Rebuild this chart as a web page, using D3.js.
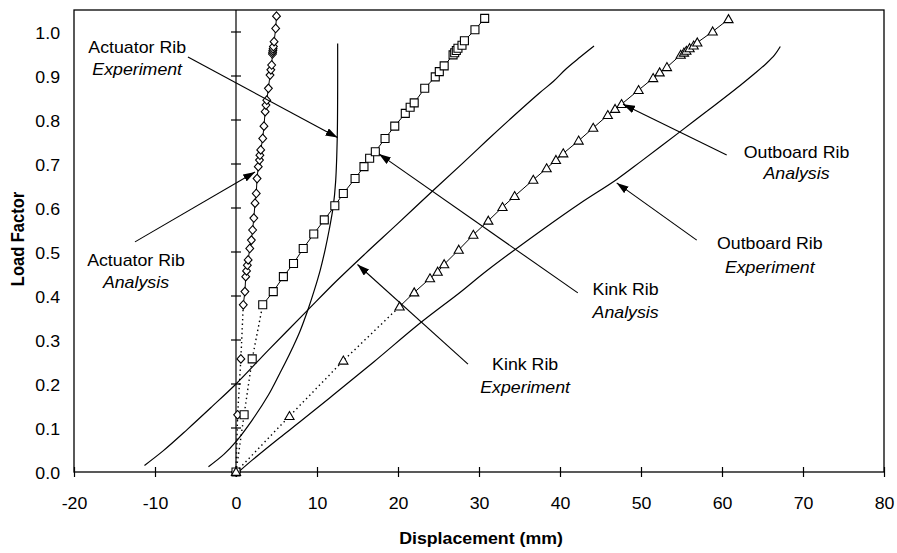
<!DOCTYPE html>
<html><head><meta charset="utf-8">
<script src="https://cdn.jsdelivr.net/npm/d3@7"></script>
<style>
body{margin:0;background:#fff;}
text{font-family:"Liberation Sans",Arial,Helvetica,sans-serif;fill:#000;}
</style>
</head><body>
<svg id="chart" width="897" height="553"></svg>
<script>
// ---------- DATA ----------
const xTicks = [-20,-10,0,10,20,30,40,50,60,70,80];
const yTicks = [0,0.1,0.2,0.3,0.4,0.5,0.6,0.7,0.8,0.9,1.0];
const xTitle = "Displacement (mm)";
const yTitle = "Load Factor";

// Actuator Rib – Analysis (diamonds)
const actuatorAnalysisX = [0,0.2,0.6,0.9,1.1,1.2,1.3,1.4,1.5,1.7,1.9,2.05,2.2,2.35,2.5,2.6,2.75,2.9,2.95,3.05,3.3,3.45,3.6,3.7,3.8,4.0,4.2,4.3,4.4,4.5,4.52,4.55,4.58,4.62,4.7,4.9,5.0];
const actuatorAnalysisY = [0,0.13,0.257,0.38,0.41,0.444,0.457,0.47,0.482,0.508,0.527,0.55,0.577,0.611,0.633,0.667,0.694,0.709,0.72,0.732,0.758,0.786,0.819,0.834,0.845,0.872,0.902,0.914,0.925,0.95,0.954,0.958,0.962,0.967,0.978,1.008,1.036];

// Kink Rib – Analysis (squares)
const kinkAnalysisX = [0,1.0,2.0,3.3,4.6,5.85,7.1,8.3,9.6,10.9,12.2,13.25,14.7,15.8,16.5,17.2,18.4,19.6,20.9,21.5,22.0,23.3,24.6,25.1,25.7,26.8,27.0,27.2,27.4,27.9,28.2,29.5,30.7];
const kinkAnalysisY = [0,0.13,0.257,0.38,0.41,0.444,0.474,0.508,0.541,0.573,0.605,0.633,0.667,0.694,0.713,0.728,0.758,0.786,0.815,0.829,0.839,0.872,0.898,0.91,0.923,0.948,0.953,0.958,0.963,0.97,0.98,1.005,1.031];

// Outboard Rib – Analysis (triangles)
const outboardAnalysisX = [0,6.6,13.25,20.2,22.0,23.95,24.9,25.7,27.5,29.3,31.15,32.9,34.4,36.7,38.35,39.5,40.4,42.3,44.1,45.9,46.8,47.6,49.7,51.5,52.3,53.2,54.9,55.3,55.6,56.0,56.5,56.95,58.85,60.8];
const outboardAnalysisY = [0,0.127,0.253,0.376,0.408,0.44,0.455,0.472,0.505,0.539,0.571,0.602,0.627,0.664,0.69,0.709,0.724,0.753,0.782,0.811,0.825,0.836,0.868,0.895,0.908,0.92,0.948,0.953,0.957,0.963,0.969,0.976,1.001,1.029];

// Experiments (plain lines)
const actuatorExpX = [-3.4,-1.5,0,2,4,5.4,6.05,7.0,7.9,8.9,9.7,10.4,11.0,11.5,12.0,12.3,12.5,12.55,12.55];
const actuatorExpY = [0.012,0.04,0.069,0.118,0.175,0.224,0.247,0.283,0.32,0.37,0.415,0.459,0.505,0.55,0.603,0.66,0.76,0.87,0.974];

const kinkExpX = [-11.3,-9,-6,-3,0,4,8.7,12.4,16,20,24.4,28,31,34.2,37.5,39.2,40.8,42.5,44.2];
const kinkExpY = [0.015,0.048,0.097,0.148,0.2,0.277,0.365,0.434,0.497,0.565,0.641,0.702,0.754,0.808,0.862,0.888,0.917,0.943,0.968];

const outboardExpX = [0.3,2,5.4,7.9,12,17,22.7,27.65,31,38,42.5,47,50,54.8,58,62.2,64,65.5,66.5,67.2];
const outboardExpY = [0.0,0.027,0.078,0.114,0.175,0.25,0.338,0.408,0.458,0.553,0.611,0.665,0.706,0.773,0.818,0.878,0.905,0.929,0.948,0.967];

// Number of leading points joined by a dotted line in the analysis series
const dottedCount = 4;

// Annotations: label lines, label centre (data units), arrow start & tip (data units)
const annLine1 = ["Actuator Rib","Actuator Rib","Kink Rib","Kink Rib","Outboard Rib","Outboard Rib"];
const annLine2 = ["Experiment","Analysis","Analysis","Experiment","Analysis","Experiment"];
const annTextX = [-12.2,-12.35,48.1,35.7,69.2,65.9];
const annTextY1 = [0.966,0.482,0.416,0.245,0.727,0.5205];
const annTextY2 = [0.916,0.432,0.364,0.193,0.680,0.466];
const annFromX = [-5.93,-12.47,42.2,28.64,60.58,56.88];
const annFromY = [0.943,0.523,0.407,0.245,0.7205,0.527];
const annToX = [12.53,2.35,17.65,15.0,47.78,47.0];
const annToY = [0.760,0.682,0.723,0.4716,0.836,0.657];

// ---------- CHART ----------
const svg = d3.select("#chart");
const x = d3.scaleLinear().domain([-20,80]).range([74,884]);
const y = d3.scaleLinear().domain([0,1.05]).range([472,10]);
const SX = 1.11, FS = 16;

svg.append("defs").append("marker")
  .attr("id","ah").attr("viewBox","0 0 12 8").attr("refX",12).attr("refY",4)
  .attr("markerWidth",12).attr("markerHeight",8).attr("markerUnits","userSpaceOnUse")
  .attr("orient","auto")
  .append("path").attr("d","M0,0L12,4L0,8Z").attr("fill","#000");

// frame
svg.append("rect").attr("x",x(-20)).attr("y",y(1.05))
  .attr("width",x(80)-x(-20)).attr("height",y(0)-y(1.05))
  .attr("fill","none").attr("stroke","#000").attr("stroke-width",1.3);

// x-axis ticks (crossing the axis line)
const xAxis = d3.axisBottom(x).tickValues(xTicks).tickSizeInner(0).tickSizeOuter(0).tickPadding(0).tickFormat(d=>d);
const gx = svg.append("g").attr("transform",`translate(0,${y(0)})`).call(xAxis);
gx.select(".domain").remove();
gx.selectAll(".tick").append("line").attr("y1",-5).attr("y2",5).attr("stroke","#000").attr("stroke-width",1.2);
gx.selectAll(".tick text").attr("y",0).attr("dy",0)
  .attr("transform",`translate(0,37) scale(${SX},1)`)
  .style("font-size",FS+"px").style("font-family",null).attr("fill","#000");

// vertical zero line with y ticks
const gy0 = svg.append("g").attr("transform",`translate(${x(0)},0)`);
gy0.append("line").attr("y1",y(0)).attr("y2",y(1.05)).attr("stroke","#000").attr("stroke-width",1.2);
gy0.selectAll("line.tk").data(yTicks).join("line").attr("class","tk")
  .attr("x1",-5).attr("x2",5).attr("y1",d=>y(d)).attr("y2",d=>y(d))
  .attr("stroke","#000").attr("stroke-width",1.2);

// y labels at left of frame
const yAxis = d3.axisLeft(y).tickValues(yTicks).tickSize(0).tickPadding(0).tickFormat(d3.format(".1f"));
const gy = svg.append("g").attr("transform",`translate(60,0)`).call(yAxis);
gy.select(".domain").remove();
gy.selectAll(".tick text").attr("x",0).attr("dy",0)
  .attr("transform",`translate(0,6) scale(${SX},1)`)
  .style("font-size",FS+"px").style("font-family",null).attr("fill","#000");

// axis titles
svg.append("text").attr("text-anchor","middle")
  .attr("transform",`translate(${(x(-20)+x(80))/2+2},544) scale(${SX},1)`)
  .style("font-size",FS+"px").style("font-weight","bold").text(xTitle);
svg.append("text").attr("text-anchor","middle")
  .attr("transform",`translate(24,239) rotate(-90) scale(1,${SX})`)
  .style("font-size","16.5px").style("font-weight","bold").text(yTitle);

// experiment curves
const zip = (a,b)=>a.map((v,i)=>[v,b[i]]);
const curve = d3.line().x(d=>x(d[0])).y(d=>y(d[1])).curve(d3.curveCatmullRom.alpha(0.5));
[[actuatorExpX,actuatorExpY],[kinkExpX,kinkExpY],[outboardExpX,outboardExpY]].forEach(([a,b])=>{
  svg.append("path").attr("d",curve(zip(a,b))).attr("fill","none").attr("stroke","#000").attr("stroke-width",1.2);
});

// analysis series
const lin = d3.line().x(d=>x(d[0])).y(d=>y(d[1]));
const diamond = "M0,-4.3L3.9,0L0,4.3L-3.9,0Z";
const square = "M-4,-4H4V4H-4Z";
const triangle = "M0,-4.6L4.6,3.4H-4.6Z";
const series = [
  [actuatorAnalysisX,actuatorAnalysisY,diamond],
  [kinkAnalysisX,kinkAnalysisY,square],
  [outboardAnalysisX,outboardAnalysisY,triangle]
];
series.forEach(([a,b,sym])=>{
  const pts = zip(a,b);
  svg.append("path").attr("d",lin(pts.slice(0,dottedCount))).attr("fill","none")
    .attr("stroke","#000").attr("stroke-width",1.4).attr("stroke-dasharray","1.4,3.2");
  svg.append("path").attr("d",lin(pts.slice(dottedCount-1))).attr("fill","none")
    .attr("stroke","#000").attr("stroke-width",1);
  svg.append("g").selectAll("path").data(pts).join("path")
    .attr("d",sym).attr("transform",d=>`translate(${x(d[0])},${y(d[1])})`)
    .attr("fill","#fff").attr("stroke","#000").attr("stroke-width",1.1);
});

// annotations
annLine1.forEach((t,i)=>{
  svg.append("line").attr("x1",x(annFromX[i])).attr("y1",y(annFromY[i]))
    .attr("x2",x(annToX[i])).attr("y2",y(annToY[i]))
    .attr("stroke","#000").attr("stroke-width",1.1).attr("marker-end","url(#ah)");
  svg.append("text").attr("text-anchor","middle")
    .attr("transform",`translate(${x(annTextX[i])},${y(annTextY1[i])+6}) scale(${SX},1)`)
    .style("font-size",FS+"px").text(t);
  svg.append("text").attr("text-anchor","middle")
    .attr("transform",`translate(${x(annTextX[i])},${y(annTextY2[i])+6}) scale(${SX},1)`)
    .style("font-size",FS+"px").style("font-style","italic").text(annLine2[i]);
});
</script>
</body></html>
